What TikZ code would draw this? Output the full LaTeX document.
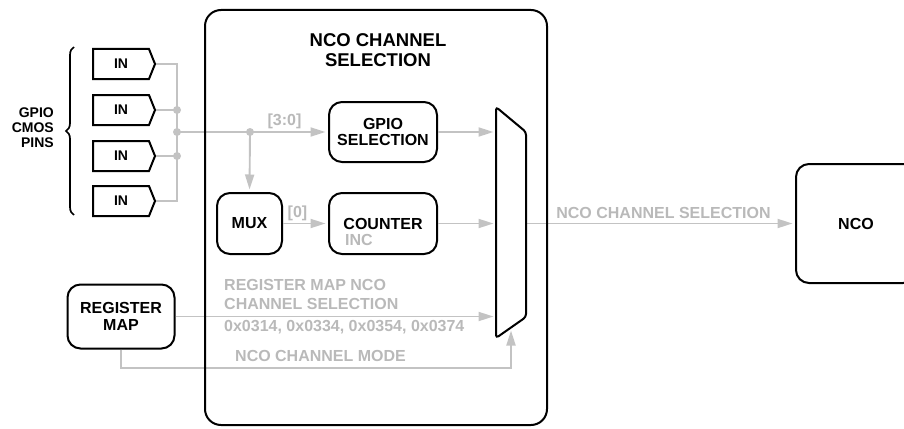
\documentclass[tikz,border=0pt]{standalone}
\usepackage{fontspec}
\setmainfont{Liberation Sans}
\usetikzlibrary{arrows.meta,shapes.symbols,decorations.pathreplacing}
\definecolor{lgray}{RGB}{195,195,195}
\definecolor{tgray}{RGB}{185,185,185}
\begin{document}
\begin{tikzpicture}[x=1pt,y=-1pt,
 box/.style={draw=black, line width=2pt, rounded corners=13pt, fill=white, align=center, inner sep=0pt, font=\fontsize{16}{16.5}\selectfont\bfseries},
 inbox/.style={signal, signal to=east, signal pointer angle=136, draw=black, line width=2pt, fill=white, minimum width=62pt, minimum height=30pt, inner sep=0pt, font=\fontsize{14}{14}\selectfont\bfseries},
 gline/.style={draw=lgray, line width=1.9pt},
 garr/.style={gline, -{Triangle[length=15pt,width=9pt]}, shorten >=2.5pt},
 glab/.style={text=tgray, inner sep=0pt, font=\fontsize{16}{19}\selectfont\bfseries},
 blab/.style={inner sep=0pt, font=\fontsize{14}{15}\selectfont\bfseries}]

\useasboundingbox (0,0) rectangle (904,428);

% GPIO pins
\node[inbox] (in1) at (121,64) {IN};
\node[inbox] (in2) at (121,110) {IN};
\node[inbox] (in3) at (121,156) {IN};
\node[inbox] (in4) at (121,201) {IN};
\draw[line width=1.7pt, decorate, decoration={brace, amplitude=8pt}] (74,215) -- (74,47);
\node[blab, align=right, anchor=east] (gpiolab) at (54,128) {GPIO\\CMOS\\PINS};

% coordinates
\coordinate (jm) at (177,132);
\coordinate (d1) at (250,132);
\coordinate (mi1) at (496,132);
\coordinate (mi2) at (496,223.5);
\coordinate (mi3) at (496,316.5);
\coordinate (mb) at (511,328);
\coordinate (mo) at (526,223.5);
\coordinate (mcor) at (121,368);

% boxes
\node[box, minimum width=108pt, minimum height=60pt] (gsel) at (383,132) {GPIO\\SELECTION};
\node[box, minimum width=108pt, minimum height=61pt] (counter) at (383,223.5) {COUNTER};
\node[box, minimum width=65pt, minimum height=61pt] (mux) at (249.5,223.5) {MUX};
\node[box, minimum width=107pt, minimum height=64pt] (regmap) at (121,316.5) {REGISTER\\MAP};
\node[box, minimum width=120pt, minimum height=119pt] (nco) at (856,223.5) {NCO};

% bus lines
\draw[gline] (in1.east) -- (in1.east -| jm) -- (in4.east -| jm) -- (in4.east);
\draw[gline] (in2.east) -- (in2.east -| jm);
\draw[gline] (in3.east) -- (in3.east -| jm);
\draw[garr] (jm) -- (gsel.west);
\draw[garr] (d1) -- (mux.north);
\draw[garr] (mux.east) -- (counter.west);
\draw[garr] (gsel.east) -- (mi1);
\draw[garr] (counter.east) -- (mi2);
\draw[garr] (regmap.east) -- (mi3);
\draw[garr] (regmap.south) -- (mcor) -| (mb);
\draw[garr] (mo) -- (nco.west);
\fill[lgray] (in2.east -| jm) circle (4pt);
\fill[lgray] (in3.east -| jm) circle (4pt);
\fill[lgray] (jm) circle (4pt);
\fill[lgray] (d1) circle (4pt);

% gray labels
\node[glab] (l30) at (284.5,121) {[3:0]};
\node[glab] (l0) at (297.5,213) {[0]};
\node[glab, anchor=west] (linc) at (345,240) {INC};
\node[glab] (lsel) at (663.5,212.5) {NCO CHANNEL SELECTION};
\node[glab, align=left, anchor=west] (lreg) at (224,294.5) {REGISTER MAP NCO\\CHANNEL SELECTION};
\node[glab, anchor=west] (lhex) at (224,327) {0x0314, 0x0334, 0x0354, 0x0374};
\node[glab, anchor=west] (lmode) at (235,356) {NCO CHANNEL MODE};

% selection mux
\draw[line width=2pt, rounded corners=3pt] (496,107) -- (526,132) -- (526,317) -- (496,338) -- cycle;

% outer block
\draw[line width=2pt, rounded corners=16pt] (205,10) rectangle (547,425);
\node[inner sep=0pt, align=center, font=\fontsize{18.5}{20}\selectfont\bfseries] (title) at (378,50) {NCO CHANNEL\\SELECTION};
\end{tikzpicture}
\end{document}
